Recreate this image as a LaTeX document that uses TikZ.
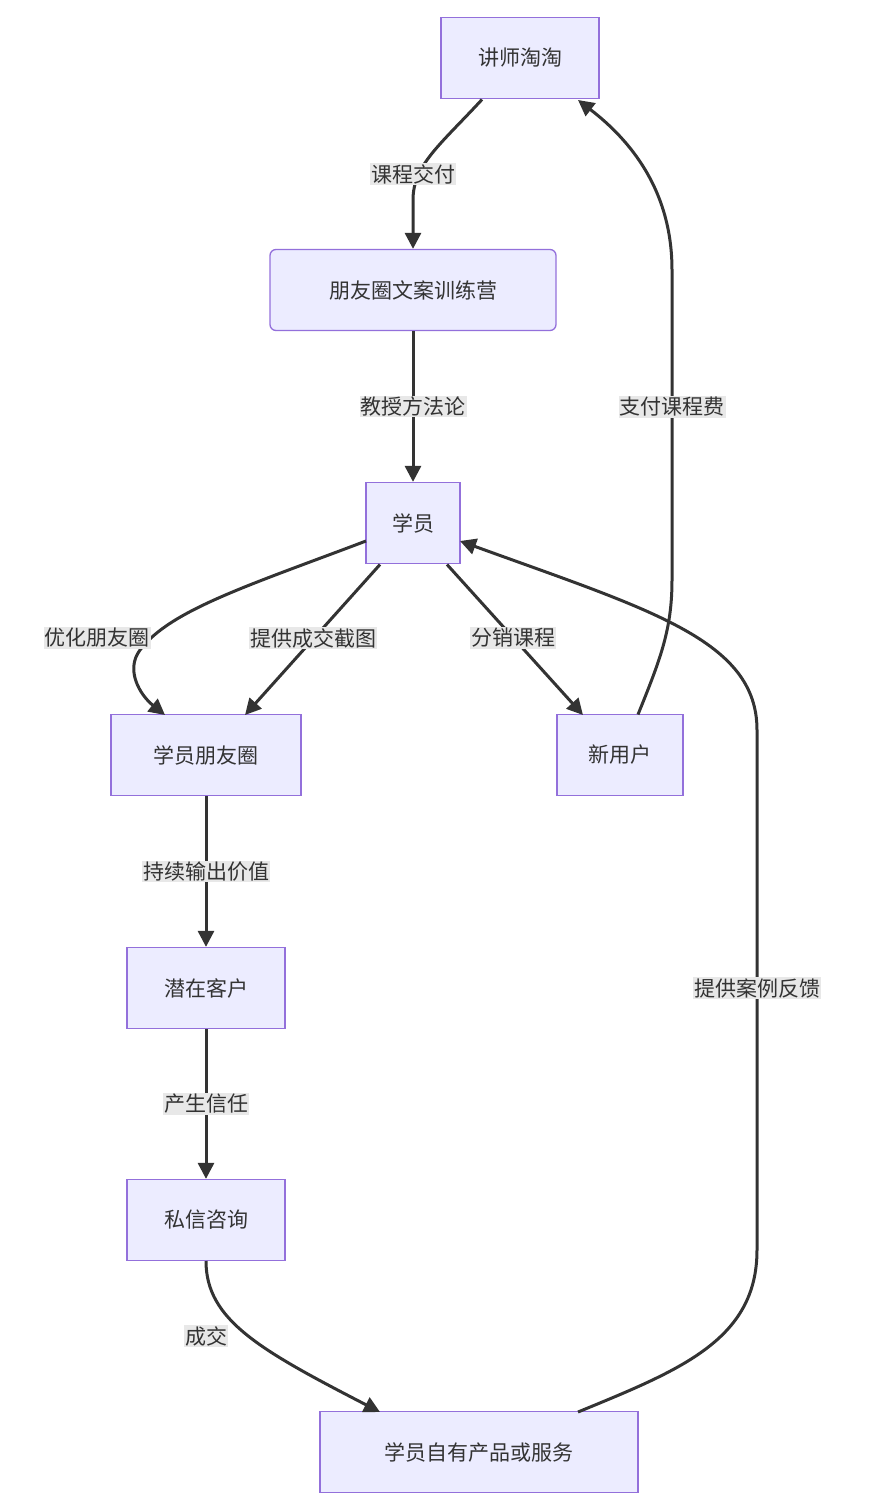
\documentclass[tikz,border=0pt]{standalone}
\usepackage{fontspec}
\newfontfamily\cjk{Noto Sans CJK SC}
\usetikzlibrary{arrows.meta}
\definecolor{nfill}{HTML}{ECECFF}
\definecolor{nline}{HTML}{9370DB}
\definecolor{eline}{HTML}{333333}
\definecolor{lbg}{HTML}{E8E8E8}
\begin{document}
\begin{tikzpicture}[x=1pt,y=-1pt,
  box/.style={draw=nline,fill=nfill,line width=1.3pt,minimum height=81pt,inner sep=0pt,font=\cjk\fontsize{21}{25}\selectfont,text=eline},
  edge/.style={draw=eline,line width=3pt,-{Triangle[length=16pt,width=16pt]}},
  lab/.style={fill=lbg,inner sep=1pt,font=\cjk\fontsize{21}{25}\selectfont,text=eline}]
\useasboundingbox (0,0) rectangle (872,1510);
\node[box,minimum width=158pt] (t) at (520,58) {讲师淘淘};
\node[box,minimum width=286pt,rounded corners=6pt] (c) at (413,290) {朋友圈文案训练营};
\node[box,minimum width=94pt] (s) at (413,523) {学员};
\node[box,minimum width=190pt] (m) at (206,755) {学员朋友圈};
\node[box,minimum width=126pt] (n) at (620,755) {新用户};
\node[box,minimum width=158pt] (p) at (206,988) {潜在客户};
\node[box,minimum width=158pt] (q) at (206,1220) {私信咨询};
\node[box,minimum width=318pt] (r) at (479,1452) {学员自有产品或服务};
\coordinate (a1) at (482,99.5);
\draw[edge] (a1) .. controls (440,145) and (413,165) .. (413,200) -- (c.north);
\node[lab] at (413,174) {课程交付};
\draw[edge] (c) -- (s) node[lab,midway] {教授方法论};
\coordinate (b1) at (638,714.5);
\coordinate (b2) at (578,100);
\draw[edge] (b1) .. controls (660,660) and (672,630) .. (672,580) -- (672,270) .. controls (672,190) and (630,140) .. (b2);
\node[lab] at (672,407) {支付课程费};
\coordinate (c1) at (366,541);
\coordinate (c2) at (165,715);
\draw[edge] (c1) .. controls (250,585) and (170,610) .. (140,650) .. controls (125,670) and (140,695) .. (c2);
\node[lab] at (97,638) {优化朋友圈};
\coordinate (d1) at (380,564.5);
\coordinate (d2) at (245,715);
\draw[edge] (d1) -- (d2);
\node[lab] at (313,638) {提供成交截图};
\coordinate (e1) at (447,564.5);
\coordinate (e2) at (583,715);
\draw[edge] (e1) -- (e2);
\node[lab] at (513,638) {分销课程};
\draw[edge] (m) -- (p) node[lab,midway] {持续输出价值};
\draw[edge] (p) -- (q) node[lab,midway] {产生信任};
\coordinate (f1) at (206,1261);
\coordinate (f2) at (380,1412);
\draw[edge] (f1) .. controls (206,1320) and (260,1350) .. (f2);
\node[lab] at (206,1336) {成交};
\coordinate (g1) at (578,1412);
\coordinate (g2) at (460,541);
\draw[edge] (g1) .. controls (680,1370) and (757,1340) .. (757,1250) -- (757,730) .. controls (757,640) and (650,610) .. (g2);
\node[lab] at (757,988) {提供案例反馈};
\end{tikzpicture}
\end{document}
